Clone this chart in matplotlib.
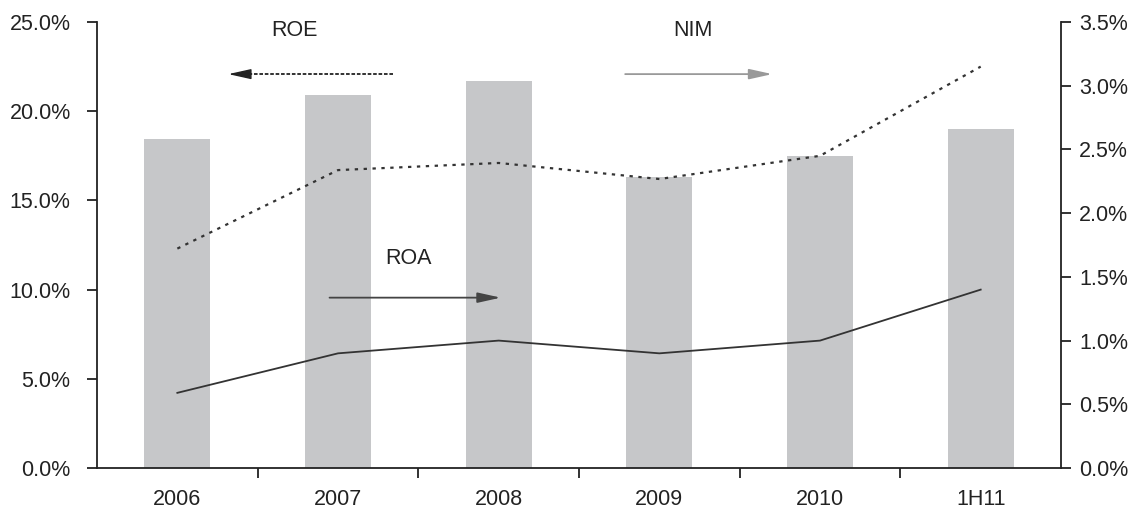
import matplotlib as mpl
import matplotlib.pyplot as plt
import numpy as np
from matplotlib import font_manager
from matplotlib.ticker import FuncFormatter, FixedLocator

# narrow sans if it is installed, otherwise regular Liberation Sans a bit smaller
try:
    font_manager.findfont('Liberation Sans Narrow', fallback_to_default=False)
    mpl.rc('font', family='Liberation Sans Narrow', size=18)
except ValueError:
    mpl.rc('font', family='Liberation Sans', size=15.5)

periods = ['2006', '2007', '2008', '2009', '2010', '1H11']
nim = [2.58, 2.93, 3.04, 2.28, 2.45, 2.66]      # bars, right axis
roe = [12.3, 16.7, 17.1, 16.2, 17.5, 22.5]      # dotted line, left axis
roa = [0.59, 0.90, 1.00, 0.90, 1.00, 1.40]      # solid line, right axis

x = np.arange(len(periods))
ink = '#222222'

fig = plt.figure(figsize=(11.36, 5.11), dpi=100)
ax = fig.add_axes([0.0854, 0.0841, 0.8486, 0.8728])
ax2 = ax.twinx()

# bars and ROA live on the right-hand axis
ax2.bar(x, nim, width=0.41, color='#c6c7c9', zorder=1)
ax2.plot(x, roa, color='#333333', lw=1.3, zorder=3)
ax2.set_ylim(0, 3.5)
ax2.yaxis.set_major_locator(FixedLocator(np.arange(0, 3.51, 0.5)))
ax2.yaxis.set_major_formatter(FuncFormatter(lambda v, p: f'{v:.1f}%'))

# ROE on the left-hand axis, drawn above the bars
ax.set_zorder(ax2.get_zorder() + 1)
ax.patch.set_visible(False)
ax.plot(x, roe, color='#333333', lw=1.6, ls=(0, (1.5, 2.5)), zorder=3)
ax.set_ylim(0, 25)
ax.set_xlim(-0.5, len(periods) - 0.5)
ax.yaxis.set_major_locator(FixedLocator(np.arange(0, 25.1, 5)))
ax.yaxis.set_major_formatter(FuncFormatter(lambda v, p: f'{v:.1f}%'))

ax.set_xticks(x)
ax.set_xticklabels(periods)
ax.set_xticks(np.arange(0.5, len(periods) - 0.5, 1), minor=True)
ax.tick_params(axis='x', which='major', length=0, pad=15, colors=ink)
ax.tick_params(axis='x', which='minor', length=7, width=1.3, direction='out', color=ink)
ax.tick_params(axis='y', length=7, width=1.3, pad=12, colors=ink)
ax2.tick_params(axis='y', length=7, width=1.3, pad=6, colors=ink)

for a in (ax, ax2):
    a.spines['top'].set_visible(False)
    for s in ('left', 'right', 'bottom'):
        a.spines[s].set_color(ink)
        a.spines[s].set_linewidth(1.3)
ax.spines['right'].set_visible(False)
ax2.spines['left'].set_visible(False)
ax2.spines['bottom'].set_visible(False)

# labels with arrows pointing to their axis
ax.text(0.73, 24.5, 'ROE', ha='center', va='center', color=ink)
ax.plot([1.34, 0.40], [22.08, 22.08], color=ink, lw=1.3, ls=(0, (2, 1)))
ax.annotate('', xy=(0.30, 22.08), xytext=(0.42, 22.08),
            arrowprops=dict(arrowstyle='-|>,head_length=0.9,head_width=0.2',
                            color=ink, lw=1.0))

ax.text(3.21, 24.5, 'NIM', ha='center', va='center', color=ink)
ax.annotate('', xy=(3.72, 22.08), xytext=(2.77, 22.08),
            arrowprops=dict(arrowstyle='-|>,head_length=0.9,head_width=0.2',
                            color='#999999', lw=1.3))

ax.text(1.44, 11.75, 'ROA', ha='center', va='center', color=ink)
ax.annotate('', xy=(2.03, 9.55), xytext=(0.93, 9.55),
            arrowprops=dict(arrowstyle='-|>,head_length=0.9,head_width=0.2',
                            color='#444444', lw=1.3))

fig.savefig('out.png', dpi=100)
